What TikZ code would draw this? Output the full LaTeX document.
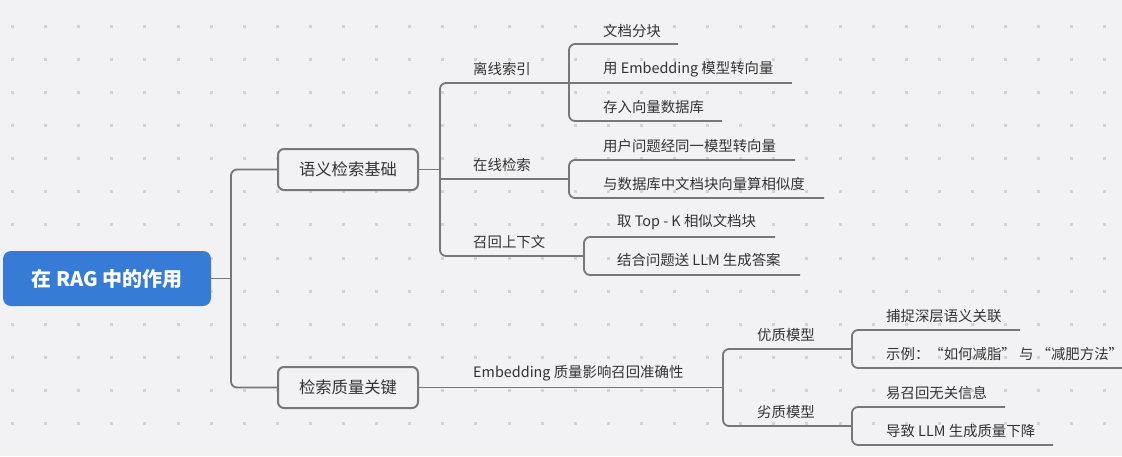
\documentclass[tikz,border=0pt]{standalone}
\usepackage{fontspec}
\setmainfont{Noto Sans CJK SC}
\begin{document}
\begin{tikzpicture}[x=1pt,y=-1pt,
  conn/.style={draw=linec, line width=1.8pt, rounded corners=6pt},
  rootbox/.style={fill=rootblue, rounded corners=8pt, minimum width=208pt, minimum height=55pt, inner sep=0pt, text=white, font=\fontsize{20}{23}\selectfont\bfseries},
  branchbox/.style={draw=linec, line width=2pt, fill=bgc, rounded corners=6pt, minimum width=140pt, minimum height=41pt, inner sep=0pt, text=textc, font=\fontsize{16.3}{19}\selectfont},
  lbl/.style={anchor=west, inner sep=0pt, text=textc, font=\fontsize{14.4}{17}\selectfont}
]
\definecolor{bgc}{HTML}{F2F2F4}
\definecolor{dotc}{HTML}{D3D3D5}
\definecolor{linec}{HTML}{777777}
\definecolor{textc}{HTML}{333333}
\definecolor{rootblue}{HTML}{367CD6}
\useasboundingbox (0,0) rectangle (1122,456);
\fill[bgc] (0,0) rectangle (1122,456);
\foreach \i in {0,...,33}{
  \foreach \j in {0,...,12}{
    \fill[dotc] ({12.5+33.1*\i-1.5},{26.3+33.1*\j-1.5}) rectangle ++(3,3);
  }
}
% nodes
\node[rootbox] (root) at (107,278.5) {在 RAG 中的作用};
\node[branchbox] (b1) at (348,169.5) {语义检索基础};
\node[branchbox] (b2) at (348,387.5) {检索质量关键};

\node[lbl] (s1) at (473,69) {离线索引};
\node[lbl] (s2) at (473,165) {在线检索};
\node[lbl] (s3) at (473,242) {召回上下文};
\node[lbl] (s4) at (473,373) {Embedding 质量影响召回准确性};
\node[lbl] (s5) at (757,335) {优质模型};
\node[lbl] (s6) at (757,412) {劣质模型};

\node[lbl] (l1) at (603,31) {文档分块};
\node[lbl] (l2) at (603,69) {用 Embedding 模型转向量};
\node[lbl] (l3) at (603,107) {存入向量数据库};
\node[lbl] (l4) at (603,146) {用户问题经同一模型转向量};
\node[lbl] (l5) at (603,184) {与数据库中文档块向量算相似度};
\node[lbl] (l6) at (617,222) {取 Top - K 相似文档块};
\node[lbl] (l7) at (617,260) {结合问题送 LLM 生成答案};
\node[lbl] (l8) at (886,316) {捕捉深层语义关联};
\node[lbl] (l9) at (886,354) {示例：“如何减脂” 与 “减肥方法”};
\node[lbl] (l10) at (886,393) {易召回无关信息};
\node[lbl] (l11) at (886,431) {导致 LLM 生成质量下降};

% junction coordinates
\coordinate (j0) at (231,278.5);
\coordinate (j1) at (440,169.5);
\coordinate (u1) at (569,83);
\coordinate (u2) at (569,179);
\coordinate (u3) at (584,256);
\coordinate (u4) at (723,387.5);
\coordinate (u5) at (852,349);
\coordinate (u6) at (852,426);
\coordinate (e1) at (678,44);
\coordinate (e2) at (792,83);
\coordinate (e3) at (722,121);
\coordinate (e4) at (795,160);
\coordinate (e5) at (824,198);
\coordinate (e6) at (775,237);
\coordinate (e7) at (800,275);
\coordinate (e8) at (1020,330);
\coordinate (e9) at (1124,368);
\coordinate (e10) at (1005,407);
\coordinate (e11) at (1053,445);

% connectors
\draw[conn] (root.east) -- (j0);
\draw[conn] (b1.west) -| (j0) |- (b2.west);
\draw[conn] (b1.east) -- (j1);
\draw[conn] (u1) -- (u1 -| j1) -- (u3 -| j1) -- (u3);
\draw[conn] (u2 -| j1) -- (u2);
\draw[conn] (e1) -| (u1) |- (e3);
\draw[conn] (u1) -- (e2);
\draw[conn] (e4) -| (u2) |- (e5);
\draw[conn] (e6) -| (u3) |- (e7);
\draw[conn] (b2.east) -- (u4);
\draw[conn] (u5) -| (u4) |- (u6);
\draw[conn] (e8) -| (u5) |- (e9);
\draw[conn] (e10) -| (u6) |- (e11);
\end{tikzpicture}
\end{document}
